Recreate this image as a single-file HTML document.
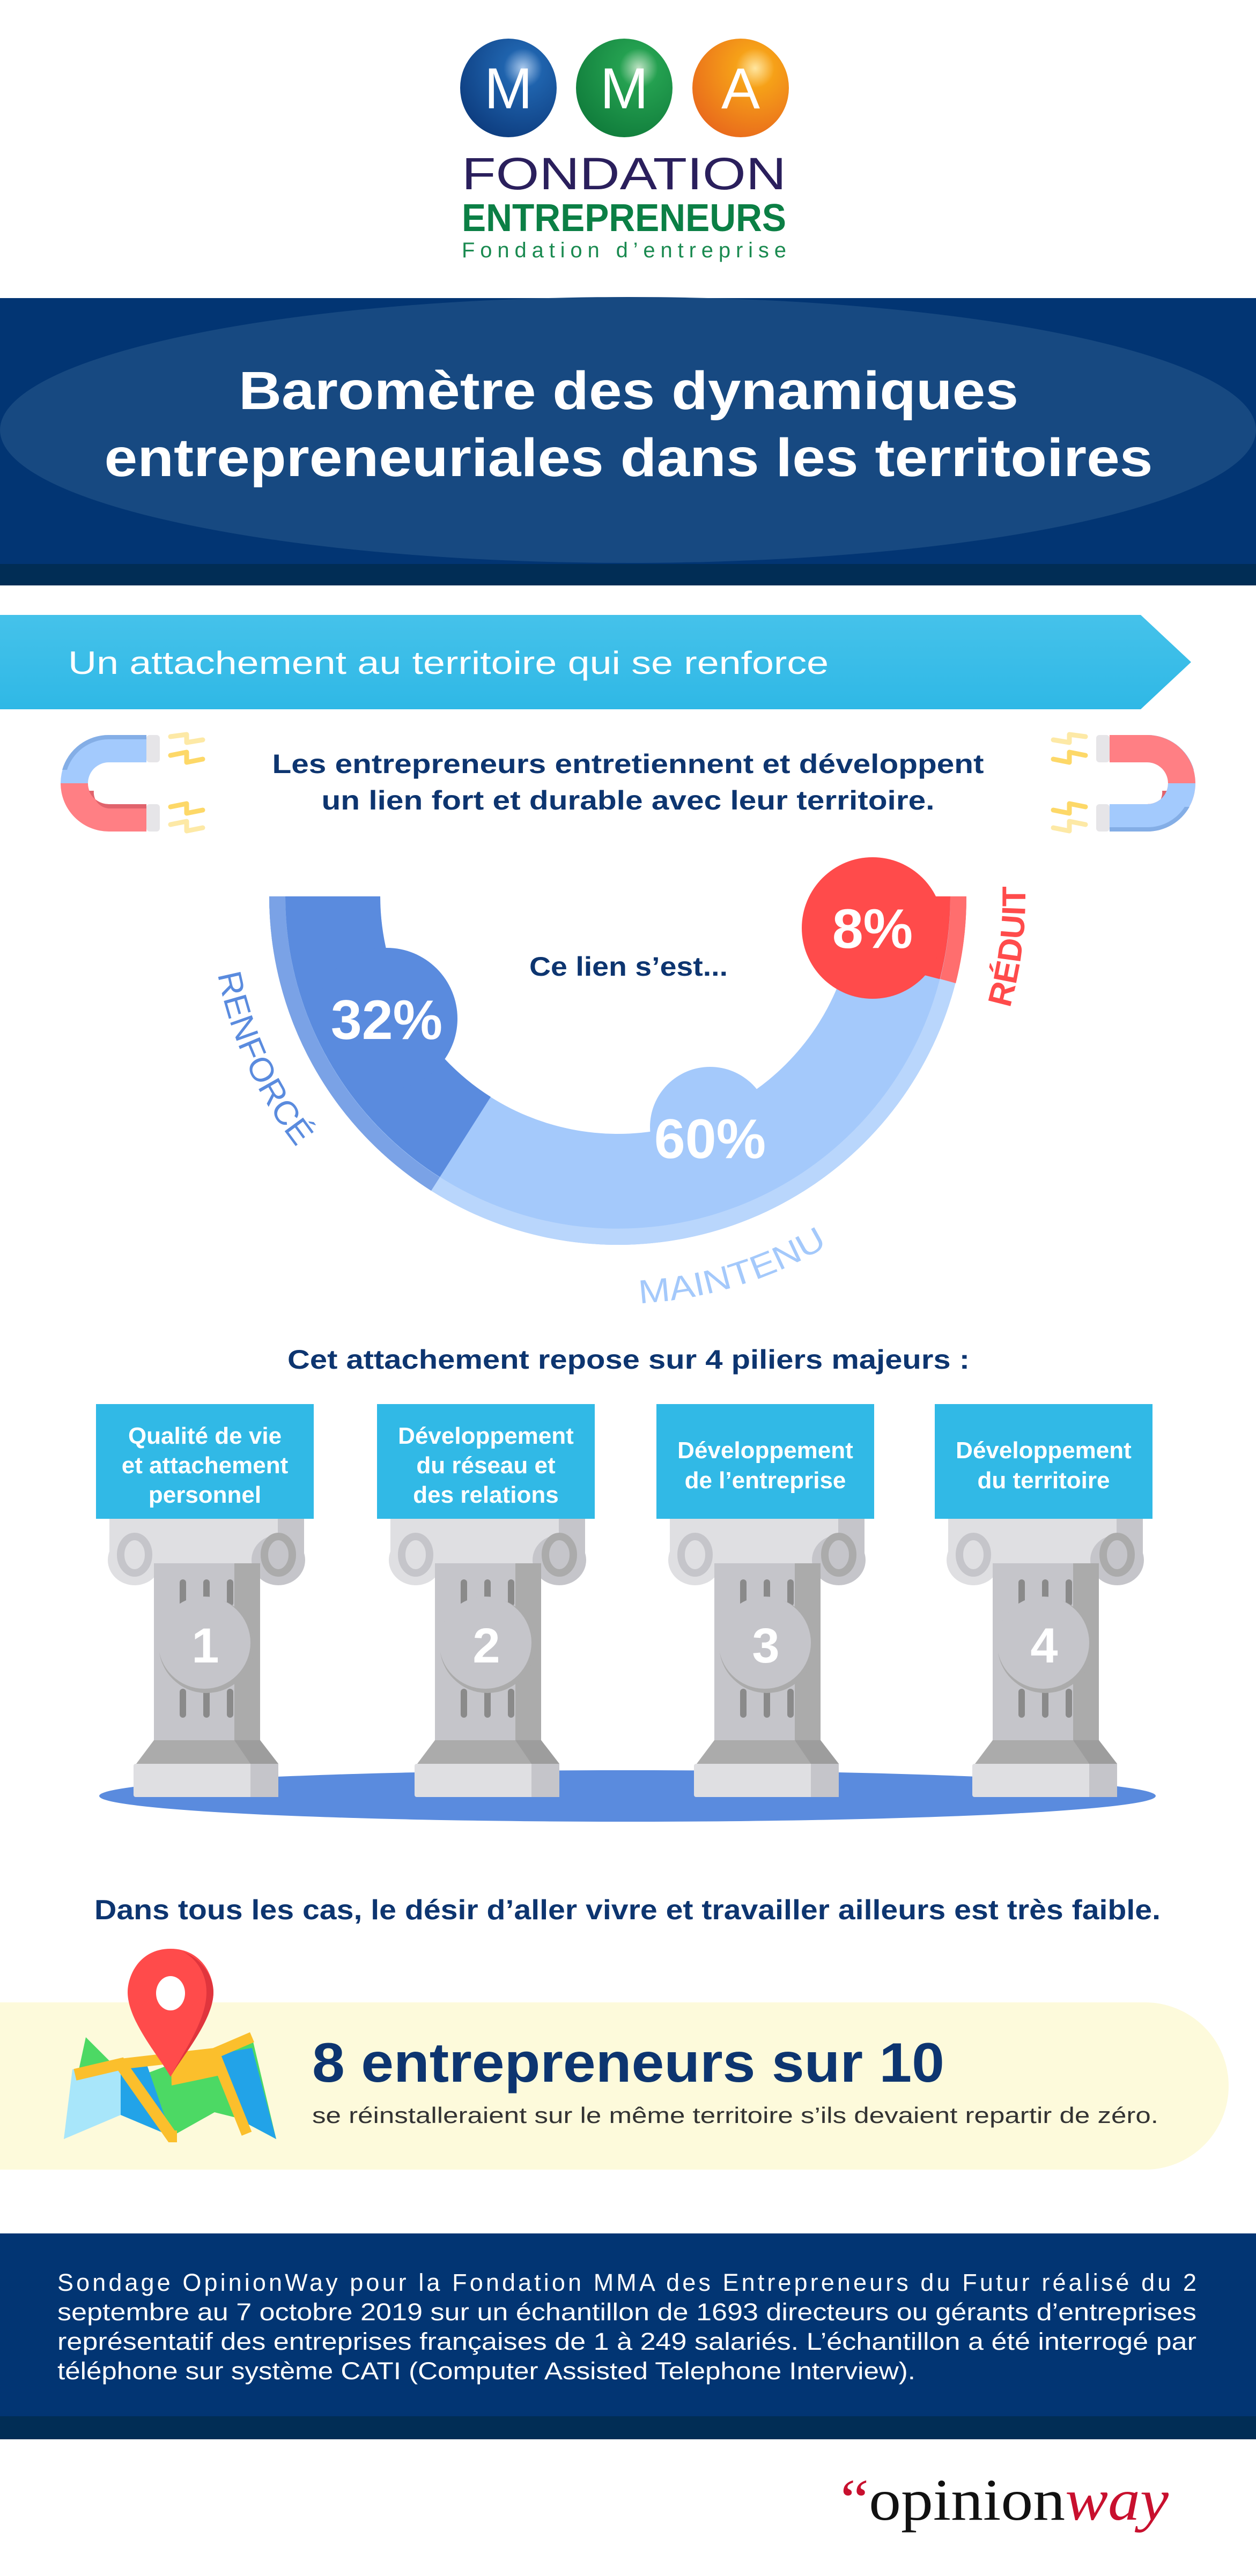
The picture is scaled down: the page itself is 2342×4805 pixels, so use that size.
<!DOCTYPE html>
<html><head><meta charset="utf-8"><style>
html,body{margin:0;padding:0;background:#fff}
svg{display:block}
text{font-family:"Liberation Sans",sans-serif}
text.serif{font-family:"Liberation Serif",serif}
</style></head><body>
<svg width="2342" height="4805" viewBox="0 0 2342 4805" xmlns="http://www.w3.org/2000/svg">
<defs>
<radialGradient id="gb" cx="0.65" cy="0.3" r="0.8"><stop offset="0" stop-color="#a9c8ec"/><stop offset="0.25" stop-color="#1f63ad"/><stop offset="1" stop-color="#0c3a7c"/></radialGradient>
<radialGradient id="gg" cx="0.65" cy="0.3" r="0.8"><stop offset="0" stop-color="#bfe3c4"/><stop offset="0.25" stop-color="#24a050"/><stop offset="1" stop-color="#0f7a3a"/></radialGradient>
<radialGradient id="go" cx="0.65" cy="0.3" r="0.8"><stop offset="0" stop-color="#ffe6a0"/><stop offset="0.25" stop-color="#f6a118"/><stop offset="1" stop-color="#e8661c"/></radialGradient>
<linearGradient id="arr" x1="0" y1="0" x2="0" y2="1"><stop offset="0" stop-color="#45c2ea"/><stop offset="1" stop-color="#2fb8e6"/></linearGradient>
<path id="arcp" d="M 392 1672 A 760 760 0 0 0 1912 1672 A 760 760 0 0 0 1900 1540"/>
<g id="mag">
<path d="M273 1371 L203 1371 A90 90 0 0 0 113 1461 L164 1461 A39 39 0 0 1 203 1422 L273 1422 Z" fill="#a3cafd"/>
<path d="M273 1371 L203 1371 A90 90 0 0 0 116 1436 L125 1436 A82 82 0 0 1 203 1379 L273 1379 Z" fill="#84aee6"/>
<path d="M273 1551 L203 1551 A90 90 0 0 1 113 1461 L164 1461 A39 39 0 0 0 203 1500 L273 1500 Z" fill="#ff7f84"/>
<path d="M273 1500 L203 1500 A39 39 0 0 1 166 1475 L175 1475 A30 30 0 0 0 203 1508 L273 1508 Z" fill="#e0636c"/>
<rect x="273" y="1371" width="25" height="51" rx="6" fill="#e6e5e8"/>
<rect x="273" y="1500" width="25" height="51" rx="6" fill="#e6e5e8"/>
<g fill="none" stroke-width="9" stroke-linecap="round" stroke-linejoin="round">
<polyline points="318,1374 348,1370 348,1385 378,1380" stroke="#fde9a6"/>
<polyline points="318,1409 348,1403 348,1422 378,1416" stroke="#fdd868"/>
<polyline points="318,1505 348,1499 348,1517 378,1511" stroke="#fdd868"/>
<polyline points="318,1538 348,1532 348,1550 378,1544" stroke="#fde9a6"/>
</g>
</g>
<g id="pil">
<rect x="25" y="2833" width="363" height="83" fill="#dfdfe2"/>
<rect x="339" y="2833" width="49" height="83" fill="#c5c5ca"/>
<ellipse cx="72" cy="2910" rx="50" ry="47" fill="#dfdfe2"/>
<ellipse cx="72" cy="2900" rx="26" ry="34" fill="none" stroke="#c5c5ca" stroke-width="14"/>
<ellipse cx="340" cy="2910" rx="50" ry="47" fill="#c5c5ca"/>
<ellipse cx="340" cy="2900" rx="26" ry="34" fill="none" stroke="#ababab" stroke-width="14"/>
<rect x="108" y="2916" width="198" height="330" fill="#c5c5ca"/>
<rect x="258" y="2916" width="48" height="330" fill="#ababab"/>
<g fill="#8a8a8a"><rect x="156" y="2946" width="12" height="50" rx="6"/><rect x="200" y="2946" width="12" height="50" rx="6"/><rect x="244" y="2946" width="12" height="50" rx="6"/>
<rect x="156" y="3150" width="12" height="54" rx="6"/><rect x="200" y="3150" width="12" height="54" rx="6"/><rect x="244" y="3150" width="12" height="54" rx="6"/></g>
<circle cx="206" cy="3069" r="89" fill="#ababab"/>
<circle cx="202" cy="3064" r="86" fill="#c5c5ca"/>
<polygon points="108,3246 306,3246 340,3290 75,3290" fill="#ababab"/>
<polygon points="258,3246 306,3246 340,3290 288,3290" fill="#9d9d9d"/>
<rect x="70" y="3290" width="270" height="62" rx="4" fill="#dfdfe2"/>
<rect x="288" y="3290" width="52" height="62" fill="#c5c5ca"/>
</g>
</defs>

<!-- logo -->
<ellipse cx="948" cy="164" rx="90" ry="92" fill="url(#gb)"/>
<ellipse cx="1164" cy="164" rx="90" ry="92" fill="url(#gg)"/>
<ellipse cx="1381" cy="164" rx="90" ry="92" fill="url(#go)"/>
<text x="948" y="202" font-size="108" fill="#fff" text-anchor="middle">M</text>
<text x="1164" y="202" font-size="108" fill="#fff" text-anchor="middle">M</text>
<text x="1381" y="202" font-size="108" fill="#fff" text-anchor="middle">A</text>
<text x="861" y="353" font-size="84" fill="#2a1f5c" textLength="605" lengthAdjust="spacingAndGlyphs">FONDATION</text>
<text x="861" y="431" font-size="72" font-weight="bold" fill="#0b7f45" textLength="605" lengthAdjust="spacingAndGlyphs">ENTREPRENEURS</text>
<text x="861" y="480" font-size="40" fill="#1a8a50" textLength="605" lengthAdjust="spacing">Fondation d’entreprise</text>

<!-- banner -->
<rect x="0" y="556" width="2342" height="500" fill="#023573"/>
<ellipse cx="1171" cy="802" rx="1171" ry="248" fill="#174981"/>
<rect x="0" y="1052" width="2342" height="40" fill="#012d55"/>
<text x="1172" y="763" font-size="100" font-weight="bold" fill="#fff" text-anchor="middle" textLength="1454" lengthAdjust="spacingAndGlyphs">Baromètre des dynamiques</text>
<text x="1172" y="888" font-size="100" font-weight="bold" fill="#fff" text-anchor="middle" textLength="1955" lengthAdjust="spacingAndGlyphs">entrepreneuriales dans les territoires</text>

<!-- arrow bar -->
<polygon points="0,1147 2127,1147 2221,1235 2127,1323 0,1323" fill="url(#arr)"/>
<text x="127" y="1257" font-size="60" fill="#fff" textLength="1418" lengthAdjust="spacingAndGlyphs">Un attachement au territoire qui se renforce</text>

<use href="#mag"/>
<use href="#mag" transform="translate(2342,0) scale(-1,1)"/>
<g transform="translate(2342,0) scale(-1,1)">
<path d="M273 1371 L203 1371 A90 90 0 0 0 113 1461 L164 1461 A39 39 0 0 1 203 1422 L273 1422 Z" fill="#ff7f84"/>
<path d="M273 1551 L203 1551 A90 90 0 0 1 113 1461 L164 1461 A39 39 0 0 0 203 1500 L273 1500 Z" fill="#a3cafd"/>
<path d="M273 1551 L203 1551 A90 90 0 0 1 124 1505 L133 1505 A82 82 0 0 0 203 1543 L273 1543 Z" fill="#84aee6"/>
</g>

<text x="1171" y="1442" font-size="50" font-weight="bold" fill="#0d3570" text-anchor="middle" textLength="1327" lengthAdjust="spacingAndGlyphs">Les entrepreneurs entretiennent et développent</text>
<text x="1171" y="1510" font-size="50" font-weight="bold" fill="#0d3570" text-anchor="middle" textLength="1143" lengthAdjust="spacingAndGlyphs">un lien fort et durable avec leur territoire.</text>

<!-- donut -->
<path d="M502 1672 A650 650 0 0 0 1802 1672 L1595 1672 A443 443 0 0 1 709 1672 Z" fill="#a4c9fb"/>
<path d="M502 1672 A650 650 0 0 0 804 2221 L915 2046 A443 443 0 0 1 709 1672 Z" fill="#5a8bde"/>
<path d="M1782 1834 A650 650 0 0 0 1802 1672 L1595 1672 A443 443 0 0 1 1581 1782 Z" fill="#ff4b4b"/>
<path d="M502 1672 A650 650 0 0 0 1802 1672 L1772 1672 A620 620 0 0 1 532 1672 Z" fill="#b9d6fc"/>
<path d="M502 1672 A650 650 0 0 0 804 2221 L820 2196 A620 620 0 0 1 532 1672 Z" fill="#7aa2e6"/>
<path d="M1782 1834 A650 650 0 0 0 1802 1672 L1772 1672 A620 620 0 0 1 1753 1826 Z" fill="#ff6e6e"/>
<circle cx="721" cy="1900" r="132" fill="#5a8bde"/>
<circle cx="1324" cy="2102" r="112" fill="#a4c9fb"/>
<circle cx="1627" cy="1731" r="132" fill="#ff4b4b"/>
<text x="721" y="1938" font-size="104" font-weight="bold" fill="#fff" text-anchor="middle">32%</text>
<text x="1324" y="2160" font-size="104" font-weight="bold" fill="#fff" text-anchor="middle">60%</text>
<text x="1627" y="1768" font-size="104" font-weight="bold" fill="#fff" text-anchor="middle">8%</text>
<text x="1172" y="1820" font-size="50" font-weight="bold" fill="#0d3570" text-anchor="middle" textLength="370" lengthAdjust="spacingAndGlyphs">Ce lien s’est...</text>
<text font-size="62" fill="#5a8bde"><textPath href="#arcp" startOffset="146" textLength="358" lengthAdjust="spacingAndGlyphs">RENFORCÉ</textPath></text>
<text font-size="62" fill="#a4c9fb"><textPath href="#arcp" startOffset="1234" textLength="371" lengthAdjust="spacingAndGlyphs">MAINTENU</textPath></text>
<text font-size="62" font-weight="bold" fill="#ff4b4b"><textPath href="#arcp" startOffset="2176" textLength="230" lengthAdjust="spacingAndGlyphs">RÉDUIT</textPath></text>

<!-- pillars -->
<text x="1172" y="2553" font-size="50" font-weight="bold" fill="#0d3570" text-anchor="middle" textLength="1272" lengthAdjust="spacingAndGlyphs">Cet attachement repose sur 4 piliers majeurs :</text>
<ellipse cx="1170" cy="3350" rx="985" ry="48" fill="#5a8bde"/>
<use href="#pil" transform="translate(179,0)"/>
<use href="#pil" transform="translate(703,0)"/>
<use href="#pil" transform="translate(1224,0)"/>
<use href="#pil" transform="translate(1743,0)"/>
<g fill="#31b9e6"><rect x="179" y="2619" width="406" height="214"/><rect x="703" y="2619" width="406" height="214"/><rect x="1224" y="2619" width="406" height="214"/><rect x="1743" y="2619" width="406" height="214"/></g>
<g font-size="44" font-weight="bold" fill="#fff" text-anchor="middle">
<text x="382" y="2693">Qualité de vie</text><text x="382" y="2748">et attachement</text><text x="382" y="2803">personnel</text>
<text x="906" y="2693">Développement</text><text x="906" y="2748">du réseau et</text><text x="906" y="2803">des relations</text>
<text x="1427" y="2720">Développement</text><text x="1427" y="2776">de l’entreprise</text>
<text x="1946" y="2720">Développement</text><text x="1946" y="2776">du territoire</text>
</g>
<g font-size="92" font-weight="bold" fill="#fff" text-anchor="middle">
<text x="383" y="3101">1</text><text x="907" y="3101">2</text><text x="1428" y="3101">3</text><text x="1947" y="3101">4</text>
</g>

<text x="1170" y="3580" font-size="52" font-weight="bold" fill="#0d3570" text-anchor="middle" textLength="1988" lengthAdjust="spacingAndGlyphs">Dans tous les cas, le désir d’aller vivre et travailler ailleurs est très faible.</text>

<!-- yellow band -->
<path d="M0 3735 L2135 3735 A156 156 0 0 1 2135 4047 L0 4047 Z" fill="#fdfadb"/>
<polygon points="160,3800 240,3880 320,3850 400,3830 470,3800 515,3990 440,3950 400,3940 320,3985 240,3940 160,3900 119,3990" fill="#4cd964"/>
<polygon points="119,3990 135,3860 225,3850 225,3945" fill="#a8e6fa"/>
<polygon points="225,3850 270,3840 320,3985 225,3945" fill="#22a3e8"/>
<polygon points="410,3830 470,3820 515,3990 440,3950" fill="#22a3e8"/>
<polygon points="319,3852 400,3830 415,3870 320,3890" fill="#fbbf2c"/>
<polyline points="140,3870 225,3850 320,3985 330,3985" fill="none" stroke="#fbbf2c" stroke-width="22"/>
<polyline points="225,3850 400,3830 470,3800" fill="none" stroke="#fbbf2c" stroke-width="20"/>
<polyline points="400,3830 460,3980" fill="none" stroke="#fbbf2c" stroke-width="20"/>
<path d="M318 3635 C260 3635 238 3685 238 3716 C238 3770 300 3840 318 3874 C336 3840 398 3770 398 3716 C398 3685 376 3635 318 3635 Z" fill="#ff4b4b"/>
<path d="M340 3640 C380 3655 398 3690 398 3716 C398 3770 336 3840 318 3874 C340 3830 385 3770 385 3716 C385 3680 365 3652 340 3640 Z" fill="#e0353d"/>
<ellipse cx="318" cy="3718" rx="27" ry="32" fill="#fff"/>
<text x="582" y="3883" font-size="104" font-weight="bold" fill="#0d3570" textLength="1179" lengthAdjust="spacingAndGlyphs">8 entrepreneurs sur 10</text>
<text x="582" y="3960" font-size="42" fill="#333" textLength="1578" lengthAdjust="spacingAndGlyphs">se réinstalleraient sur le même territoire s’ils devaient repartir de zéro.</text>

<!-- footer -->
<rect x="0" y="4166" width="2342" height="344" fill="#023573"/>
<rect x="0" y="4507" width="2342" height="43" fill="#012d55"/>
<g font-size="45" fill="#fff">
<text x="107" y="4273" textLength="2124" lengthAdjust="spacing">Sondage OpinionWay pour la Fondation MMA des Entrepreneurs du Futur réalisé du 2</text>
<text x="107" y="4328" textLength="2124" lengthAdjust="spacingAndGlyphs">septembre au 7 octobre 2019 sur un échantillon de 1693 directeurs ou gérants d’entreprises</text>
<text x="107" y="4383" textLength="2124" lengthAdjust="spacingAndGlyphs">représentatif des entreprises françaises de 1 à 249 salariés. L’échantillon a été interrogé par</text>
<text x="107" y="4438" textLength="1600" lengthAdjust="spacingAndGlyphs">téléphone sur système CATI (Computer Assisted Telephone Interview).</text>
</g>
<text class="serif" x="1567" y="4700" font-size="110" textLength="612" lengthAdjust="spacingAndGlyphs"><tspan fill="#c8102e">“</tspan><tspan fill="#111">opinion</tspan><tspan fill="#c8102e" font-style="italic">way</tspan></text>
</svg>
</body></html>
